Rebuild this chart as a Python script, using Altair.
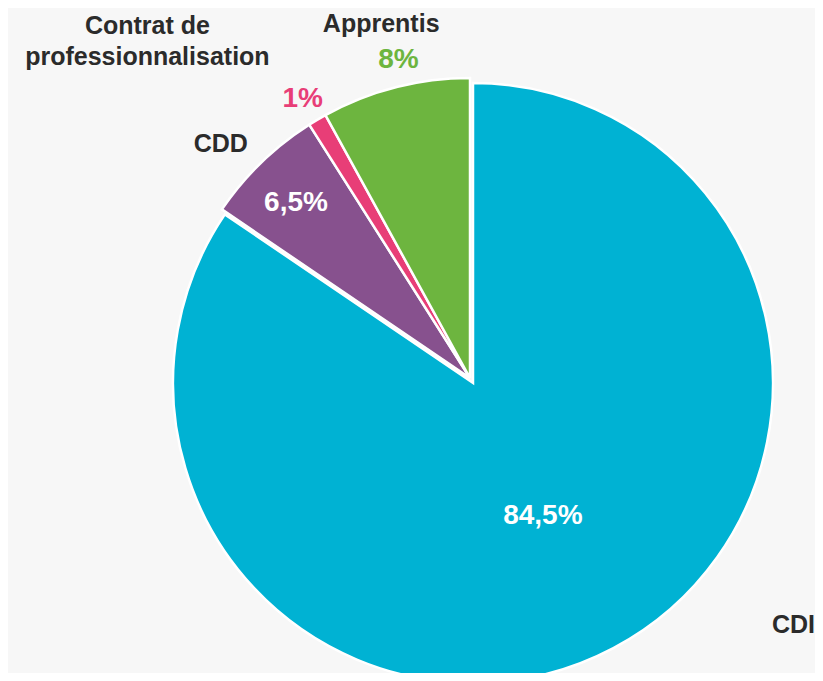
import math
import altair as alt
import pandas as pd

# ---- data ----
categories = ["CDI", "CDD", "Contrat de professionnalisation", "Apprentis"]
shares = [84.5, 6.5, 1.0, 8.0]
value_labels = ["84,5%", "6,5%", "1%", "8%"]
name_labels = ["CDI", "CDD", "Contrat de\nprofessionnalisation", "Apprentis"]
slice_order = [0, 1, 2, 3]
colors = ["#00b2d3", "#87518e", "#e83e77", "#6db53f"]

df = pd.DataFrame({
    "category": categories,
    "share": shares,
    "value_label": value_labels,
    "name_label": name_labels,
    "order": slice_order,
})

W, H = 807, 665
R = 300
# chart coordinates (page minus 8px margin)
CENTER_MAIN = (473 - 8, 383 - 8)     # CDI slice (slightly pulled out)
CENTER_REST = (470 - 8, 378 - 8)     # other slices

theta_scale = alt.Scale(domain=[0, 100], range=[0, 2 * math.pi])
color_scale = alt.Scale(domain=categories, range=colors)

base = (
    alt.Chart(df)
    .transform_stack(
        stack="share", groupby=[], as_=["start", "end"],
        sort=[alt.SortField("order", order="ascending")],
    )
    .transform_calculate(mid="(datum.start + datum.end) / 2")
)


def arcs(filter_expr, center):
    return (
        base.transform_filter(filter_expr)
        .mark_arc(outerRadius=R, stroke="white", strokeWidth=2.5)
        .encode(
            theta=alt.Theta("start:Q", scale=theta_scale),
            theta2="end:Q",
            color=alt.Color("category:N", scale=color_scale, legend=None),
            x=alt.value(center[0]),
            y=alt.value(center[1]),
        )
    )


def label(cat, field, radius, center, color, size, dx=0, dy=0, line_height=None):
    kw = dict(
        radius=radius, dx=dx, dy=dy, font="Liberation Sans", fontWeight="bold",
        fontSize=size, color=color, align="center", baseline="alphabetic",
    )
    if line_height is not None:
        kw["lineBreak"] = "\n"
        kw["lineHeight"] = line_height
    return (
        base.transform_filter(alt.datum.category == cat)
        .mark_text(**kw)
        .encode(
            theta=alt.Theta("mid:Q", scale=theta_scale),
            text=alt.Text(f"{field}:N"),
            x=alt.value(center[0]),
            y=alt.value(center[1]),
        )
    )


DARK = "#2b2b2b"
layers = [
    arcs(alt.datum.category == "CDI", CENTER_MAIN),
    arcs(alt.datum.category != "CDI", CENTER_REST),
    # values
    label("CDI", "value_label", 160, CENTER_MAIN, "white", 28, dx=-5),
    label("CDD", "value_label", 240, CENTER_REST, "white", 28, dx=-7, dy=5),
    label("Contrat de professionnalisation", "value_label", 315, CENTER_REST, colors[2], 28, dx=-7),
    label("Apprentis", "value_label", 320, CENTER_REST, colors[3], 28, dx=8),
    # names
    label("CDI", "name_label", 283, CENTER_MAIN, DARK, 25, dx=188),
    label("CDD", "name_label", 315, CENTER_REST, DARK, 25, dx=-30),
    label("Contrat de professionnalisation", "name_label", 400, CENTER_REST, DARK, 25,
          dx=-119, line_height=31),
    label("Apprentis", "name_label", 357, CENTER_REST, DARK, 25),
]

chart = (
    alt.layer(*layers)
    .properties(width=W, height=H, padding=0, autosize="none", background="#f7f7f7")
    .configure_view(stroke=None)
)

chart.save("out.html", embed_options={"renderer": "svg", "actions": False})
